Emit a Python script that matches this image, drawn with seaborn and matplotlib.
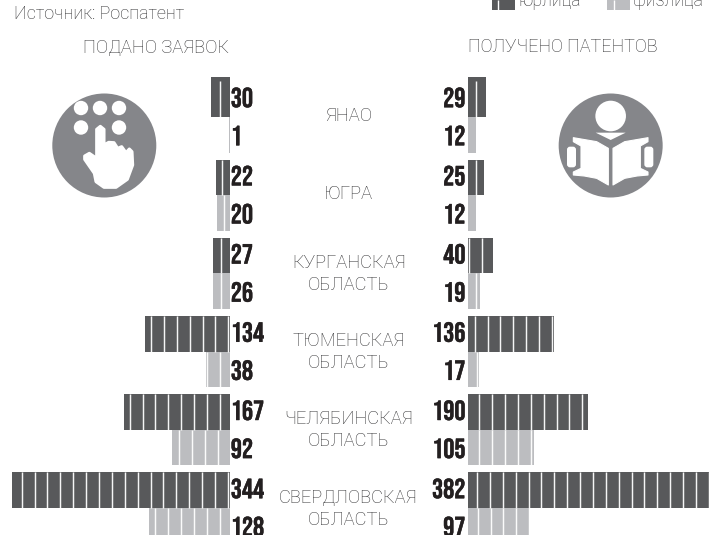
import matplotlib
matplotlib.use("Agg")
import logging
logging.getLogger("matplotlib.font_manager").setLevel(logging.ERROR)
import matplotlib.pyplot as plt
import matplotlib.patheffects as pe
from matplotlib.patches import Circle, Polygon, Patch, FancyBboxPatch
import pandas as pd
import seaborn as sns

regions = ["ЯНАО", "ЮГРА", "КУРГАНСКАЯ\nОБЛАСТЬ", "ТЮМЕНСКАЯ\nОБЛАСТЬ",
           "ЧЕЛЯБИНСКАЯ\nОБЛАСТЬ", "СВЕРДЛОВСКАЯ\nОБЛАСТЬ"]
applied_legal = [30, 22, 27, 134, 167, 344]
applied_person = [1, 20, 26, 38, 92, 128]
granted_legal = [29, 25, 40, 136, 190, 382]
granted_person = [12, 12, 19, 17, 105, 97]
type_names = ["юрлица", "физлица"]
header_left = "ПОДАНО ЗАЯВОК"
header_right = "ПОЛУЧЕНО ПАТЕНТОВ"
source = "Источник: Роспатент"

DARK, LIGHT = "#58595b", "#bcbdc0"
ICON = "#85868a"
TXT = "#303032"
NUM = "#231f20"
LIGHTFONT = ["Roboto", "DejaVu Sans"]
NUMFONT = ["Bebas Neue", "Oswald", "IBM Plex Sans Condensed", "DejaVu Sans"]

W, H = 711, 535
PXU = 0.632         # pixels per unit
Y0, DY = 117.0, 78.2
STRIPE = 12.88
phase_left = [10, 2, 7.5, 6.3, 8.5, 9, 1.5, 9.5, 10, 12, 2, 10]
phase_right = [8, 8, 8, 8, 1.3, 8, 6.7, 8.5, 11.3, 11.3, 9, 9.7]

sns.set_theme(style="white")
fig = plt.figure(figsize=(W / 100, H / 100), dpi=100)
fig.patch.set_facecolor("white")


def long(a, b):
    return pd.DataFrame({
        "region": regions * 2,
        "type": [type_names[0]] * 6 + [type_names[1]] * 6,
        "value": list(a) + list(b),
    })


def panel(a, b, base_px, flip, phases):
    ax = fig.add_axes([0, 0, 1, 1], facecolor="none")
    sns.barplot(data=long(a, b), y="region", x="value", hue="type", order=regions,
                hue_order=type_names, palette=[DARK, LIGHT], dodge=True, width=0.91,
                gap=0, saturation=1, legend=False, ax=ax, linewidth=0, errorbar=None)
    ax.set_ylim((H - Y0) / DY, -Y0 / DY)
    if flip:
        ax.set_xlim(base_px / PXU, (base_px - W) / PXU)
    else:
        ax.set_xlim(-base_px / PXU, (W - base_px) / PXU)
    ax.axis("off")
    i = 0
    for k in range(6):
        for cont in ax.containers:
            bar = cont[k]
            val = bar.get_width()
            yc = bar.get_y() + bar.get_height() / 2
            txt_off = (-2.0 if bar.get_facecolor()[0] < 0.5 else 0.5) / DY
            ax.text((-1.0 if flip else -2.6) / PXU, yc + txt_off, f"{int(val)}", ha="left" if flip else "right",
                    va="center", fontsize=20, family=NUMFONT, color=NUM, clip_on=False,
                    path_effects=[pe.withStroke(linewidth=0.3, foreground=NUM)])
            p = phases[i]
            while p < val * PXU:
                ax.vlines(p / PXU, bar.get_y(), bar.get_y() + bar.get_height(),
                          color="white", lw=1.05, alpha=0.95)
                p += STRIPE
            i += 1
    b0 = ax.containers[0][0]
    b0.set_y(b0.get_y() - 4 / DY)
    b0.set_height(b0.get_height() + 4 / DY)
    return ax


axl = panel(applied_legal, applied_person, 229.8, True, phase_left)
axr = panel(granted_legal, granted_person, 468.0, False, phase_right)

handles = [Patch(color=DARK, lw=0), Patch(color=LIGHT, lw=0)]
axl.legend(handles, type_names, ncols=2, loc="center left", bbox_to_anchor=(492 / W, 1.0),
           bbox_transform=fig.transFigure, frameon=False, borderpad=0, borderaxespad=0,
           handlelength=1.32, handleheight=1.38, handletextpad=0.15,
           columnspacing=1.47, labelcolor=TXT, prop={"family": LIGHTFONT, "weight": "light", "size": 12.8})

ov = fig.add_axes([0, 0, 1, 1], facecolor="none")
ov.set_xlim(0, W)
ov.set_ylim(H, 0)
ov.axis("off")

ov.vlines([498, 613.5], 0, 12, color="white", lw=1.0)
tkw = dict(family=LIGHTFONT, fontweight="light", color=TXT)
ov.text(14, 14, source, ha="left", va="center", fontsize=13, **tkw)
ov.text(156, 47.5, header_left, ha="center", va="center", fontsize=13.2, **tkw)
ov.text(563, 47.5, header_right, ha="center", va="center", fontsize=12.95, **tkw)
for i, r in enumerate(regions):
    shift = 0.6 if "\n" in r else -1.4
    ov.text(348.5, Y0 + DY * i + shift, r, ha="center", va="center", fontsize=13.2,
            linespacing=1.28, **tkw)

ov.add_patch(Circle((104.3, 145.5), 52, fc=ICON, ec="none"))
for x, y in [(81, 108), (100, 108), (119, 108), (81, 127.5), (119, 127.5)]:
    ov.add_patch(Circle((x, y), 7.2, fc="white", ec="none"))
hand = [(140, 118), (140, 205), (118, 190), (104, 198), (104, 208), (133, 250), (138, 275),
        (162, 292), (198, 292), (232, 268), (248, 225), (246, 185), (238, 177), (228, 188),
        (215, 170), (203, 175), (192, 158), (176, 157), (162, 165), (162, 118), (151, 109)]
ov.add_patch(Polygon([(50 + x / 3, 90 + y / 3) for x, y in hand], closed=True, fc="white",
                     ec="white", lw=2.2, joinstyle="round"))

ox, oy = 555, 90
cx = 167


def book_pts(pts, side):
    return [(ox + (cx - side * (cx - x)) / 3, oy + y / 3) for x, y in pts]


ov.add_patch(Circle((ox + cx / 3, 145.5), 52, fc=ICON, ec="none"))
ov.add_patch(Circle((ox + cx / 3, oy + 78 / 3), 15.3, fc="white", ec="none"))
ov.add_patch(Polygon(book_pts([(122, 128), (212, 128), (167, 150)], 1), closed=True, fc="white", ec="none"))
page = [(55, 143), (125, 155), (160, 175), (160, 285), (125, 265), (88, 258), (55, 255), (55, 246),
        (78, 235), (78, 168), (55, 155)]
for s in (1, -1):
    ov.add_patch(Polygon(book_pts(page, s), closed=True, fc="white", ec="white", lw=0.8, joinstyle="round"))
    x0 = (36 if s == 1 else 268)
    ov.add_patch(FancyBboxPatch((ox + (x0 + 6) / 3, oy + 176 / 3), 15 / 3, 50 / 3,
                                boxstyle="round,pad=2,rounding_size=3", fc="white", ec="none"))

fig.savefig("out.png", dpi=100)
